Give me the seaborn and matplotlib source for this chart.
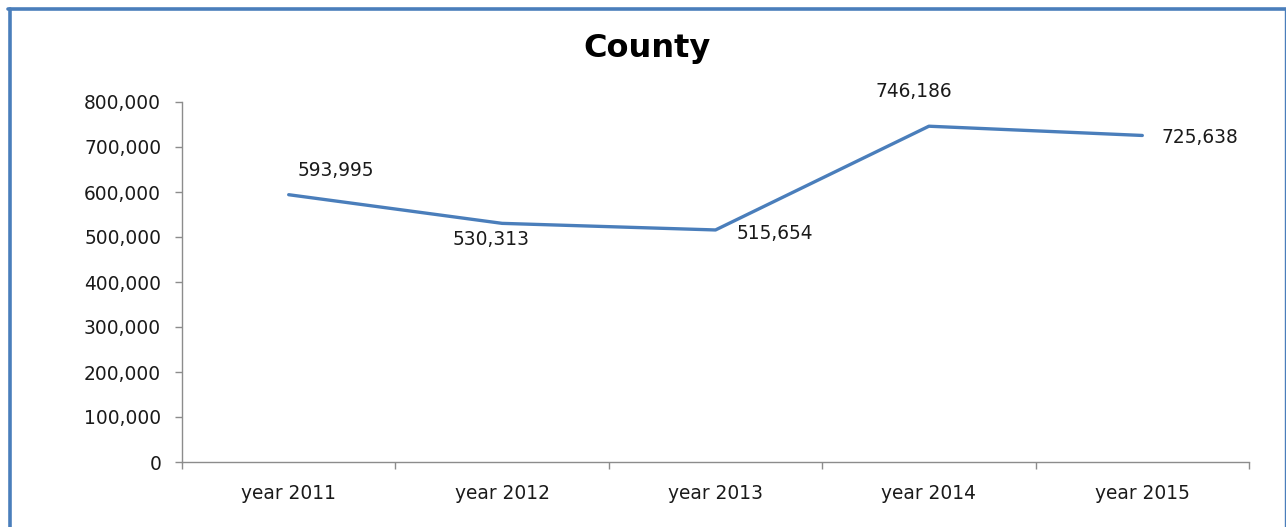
import matplotlib
matplotlib.use("Agg")
import matplotlib.pyplot as plt
from matplotlib.lines import Line2D
from matplotlib.ticker import FuncFormatter, FixedLocator
import seaborn as sns
import pandas as pd

categories = ["year 2011", "year 2012", "year 2013", "year 2014", "year 2015"]
values = [593995, 530313, 515654, 746186, 725638]
title = "County"

sns.set_theme(style="white")
plt.rcParams['font.family'] = ['DejaVu Sans']

fig = plt.figure(figsize=(12.86, 5.27), dpi=100)
ax = fig.add_axes([182/1286, 65/527, (1249-182)/1286, (462-102)/527])

df = pd.DataFrame({"cat": categories, "val": values})
sns.lineplot(data=df, x="cat", y="val", ax=ax, color="#4A7EBB", linewidth=2.4, sort=False)

ax.set_xlim(-0.5, len(categories) - 0.5)
ax.set_ylim(0, 800000)
ax.yaxis.set_major_locator(FixedLocator(range(0, 800001, 100000)))
ax.yaxis.set_major_formatter(FuncFormatter(lambda v, p: f"{int(v):,}"))
ax.set_xlabel("")
ax.set_ylabel("")

for s in ["top", "right"]:
    ax.spines[s].set_visible(False)
for s in ["left", "bottom"]:
    ax.spines[s].set_color("#8c8c8c")
    ax.spines[s].set_linewidth(1.0)

fs = 13.4
ax.tick_params(axis="y", which="major", left=True, length=5, width=1, color="#8c8c8c",
               labelsize=fs, labelcolor="#1a1a1a", pad=10)
ax.tick_params(axis="x", which="major", bottom=False, labelsize=fs, labelcolor="#1a1a1a", pad=10)
ax.set_xticks([i - 0.5 for i in range(len(categories) + 1)], minor=True)
ax.tick_params(axis="x", which="minor", bottom=True, length=5, width=1, color="#8c8c8c")

# data labels
offsets = [(0.22, 53000), (-0.05, -35000), (0.28, -8000), (-0.07, 77000), (0.27, -5000)]
for i, (v, (dx, dy)) in enumerate(zip(values, offsets)):
    ax.text(i + dx, v + dy, f"{v:,}", fontsize=fs, color="#1a1a1a", ha="center", va="center")

fig.text(647/1286, 1 - 49/527, title, fontsize=23, fontweight="bold", ha="center", va="center", color="#000000")

# frame border
fig.add_artist(Line2D([9.5/1286, 9.5/1286], [0, 1 - 8.5/527], color="#4A7EBB", linewidth=2.6, transform=fig.transFigure))
fig.add_artist(Line2D([8/1286, 1285.5/1286], [1 - 8.5/527, 1 - 8.5/527], color="#4A7EBB", linewidth=2.6, transform=fig.transFigure))
fig.add_artist(Line2D([1285.3/1286, 1285.3/1286], [0, 1 - 8.5/527], color="#4A7EBB", linewidth=1.0, transform=fig.transFigure))

fig.savefig("out.png", dpi=100)
